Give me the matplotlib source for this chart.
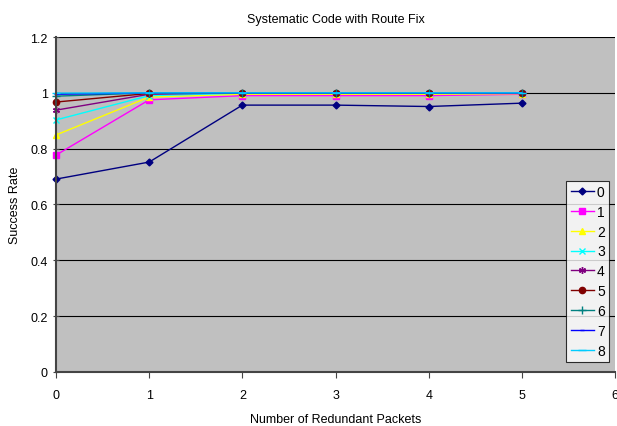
import matplotlib
matplotlib.use('Agg')
import matplotlib.pyplot as plt

plt.rcParams['font.family'] = ['Liberation Sans', 'DejaVu Sans']

redundant = [0, 1, 2, 3, 4, 5]
labels = ['0', '1', '2', '3', '4', '5', '6', '7', '8']
s0 = [0.691, 0.752, 0.956, 0.956, 0.951, 0.963]
s1 = [0.777, 0.975, 0.990, 0.990, 0.990, 0.995]
s2 = [0.849, 0.985, 0.995, 0.995, 0.995, 0.997]
s3 = [0.903, 0.990, 0.999, 0.999, 0.999, 0.999]
s4 = [0.938, 0.995, 1.000, 1.000, 1.000, 1.000]
s5 = [0.967, 0.998, 1.000, 1.000, 1.000, 1.000]
s6 = [0.988, 1.000, 1.000, 1.000, 1.000, 1.000]
s7 = [0.995, 1.000, 1.000, 1.000, 1.000, 1.000]
s8 = [0.999, 1.000, 1.000, 1.000, 1.000, 1.000]
series = [s0, s1, s2, s3, s4, s5, s6, s7, s8]

colors = ['#000080', '#FF00FF', '#FFFF00', '#00FFFF', '#800080',
          '#800000', '#008080', '#0000FF', '#00CCFF']
markers = ['D', 's', '^', 'x', (6, 2, 0), 'o', '+', '_', '_']
msizes = [3.5, 4.5, 4.5, 4.5, 5, 4.5, 5.5, 3.5, 6]

fig = plt.figure(figsize=(6.17, 4.27), dpi=100)
ax = fig.add_axes([0.0908, 0.1265, 0.906, 0.7845])
ax.set_facecolor('#C0C0C0')

for vals, lab, c, m, ms in zip(series, labels, colors, markers, msizes):
    ax.plot(redundant, vals, color=c, marker=m, markersize=ms, linewidth=1,
            markeredgecolor=c, markerfacecolor=c, label=lab, clip_on=False)

ax.set_xlim(0, 6)
ax.set_ylim(0, 1.2)
ax.set_xticks(range(7))
ax.set_yticks([0, 0.2, 0.4, 0.6, 0.8, 1, 1.2])
ax.set_yticklabels(['0', '0.2', '0.4', '0.6', '0.8', '1', '1.2'])
ax.yaxis.grid(True, color='black', linewidth=0.8)
ax.set_axisbelow(True)
for side in ['top', 'right']:
    ax.spines[side].set_visible(False)
ax.spines['left'].set_color('#444444')
ax.spines['bottom'].set_color('#444444')
ax.spines['left'].set_linewidth(1.5)
ax.spines['bottom'].set_linewidth(1.5)
ax.tick_params(labelsize=9, length=4, color='#444444')
ax.tick_params(axis='x', direction='out', pad=8)
ax.tick_params(axis='y', direction='inout', pad=4)

ax.set_title('Systematic Code with Route Fix', fontsize=9, pad=11)
ax.set_xlabel('Number of Redundant Packets', fontsize=9, labelpad=9)
ax.set_ylabel('Success Rate', fontsize=9, labelpad=7)

leg = ax.legend(loc='upper left', bbox_to_anchor=(0.913, 0.571), fontsize=10,
                frameon=True, fancybox=False, handlelength=1.7,
                labelspacing=0.42, borderpad=0.3, handletextpad=0.2,
                borderaxespad=0)
leg.get_frame().set_edgecolor('black')
leg.get_frame().set_facecolor('white')
leg.get_frame().set_linewidth(0.8)

fig.savefig('out.png', dpi=100)
